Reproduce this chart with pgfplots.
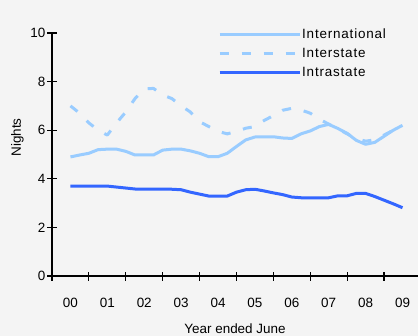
\documentclass[border=0pt]{standalone}
\usepackage{fontspec}
\setmainfont{Liberation Sans}
\newfontfamily\legfont[LetterSpace=6]{Liberation Sans}
\usepackage{pgfplots}
\usepackage{pgfplotstable}
\pgfplotsset{compat=1.18}
\definecolor{bg}{HTML}{F4F4F4}
\definecolor{lb}{HTML}{99CCFF}
\definecolor{db}{HTML}{3366FF}
\pgfplotstableread{
x     intl  inter intra
0.50  4.90  7.00  3.70
0.75  4.98  6.70  3.70
1.00  5.05  6.30  3.70
1.25  5.20  6.00  3.70
1.50  5.22  5.80  3.70
1.75  5.22  6.30  3.66
2.00  5.13  6.75  3.62
2.25  4.98  7.30  3.58
2.50  4.98  7.70  3.57
2.75  4.98  7.72  3.57
3.00  5.18  7.45  3.57
3.25  5.22  7.30  3.57
3.50  5.22  7.00  3.55
3.75  5.15  6.75  3.45
4.00  5.05  6.35  3.37
4.25  4.91  6.15  3.29
4.50  4.91  5.95  3.29
4.75  5.05  5.85  3.29
5.00  5.33  5.95  3.45
5.25  5.60  6.08  3.55
5.50  5.72  6.15  3.57
5.75  5.73  6.40  3.50
6.00  5.73  6.60  3.42
6.25  5.68  6.82  3.35
6.50  5.66  6.90  3.25
6.75  5.85  6.83  3.22
7.00  5.97  6.70  3.22
7.25  6.15  6.45  3.22
7.50  6.24  6.25  3.22
7.75  6.07  6.05  3.30
8.00  5.87  5.85  3.30
8.25  5.58  5.65  3.40
8.50  5.42  5.55  3.40
8.75  5.50  5.60  3.27
9.00  5.75  5.80  3.12
9.25  6.00  6.00  2.97
9.50  6.20  6.20  2.81
}\data
\begin{document}
\begin{tikzpicture}
\path[use as bounding box, fill=bg] (-52bp,-60bp) rectangle (366bp,276bp);
\begin{axis}[
  scale only axis, width=366bp, height=243bp,
  xmin=0, xmax=9.92, ymin=0, ymax=10,
  axis x line*=bottom, axis y line*=left,
  axis line style={black, line width=1.2bp},
  tick style={black, line width=1.2bp},
  tick align=center, major tick length=9bp,
  ytick={0,2,...,10},
  xtick={0,...,9}, xticklabels={},
  extra x ticks={0.5,1.5,...,9.5},
  extra x tick labels={00,01,02,03,04,05,06,07,08,09},
  extra x tick style={tick style={draw=none}},
  /pgf/number format/assume math mode=true,
  ticklabel style={font=\fontsize{13.5}{16}\selectfont},
  yticklabel style={anchor=east, inner sep=0pt, xshift=-2bp},
  xticklabel style={anchor=base, inner sep=0pt, yshift=-27bp},
  ylabel={Nights},
  xlabel={Year ended June},
  every axis y label/.style={at={(axis description cs:0,0.57)}, xshift=-34.5bp, rotate=90, anchor=center, font=\fontsize{13.5}{16}\selectfont},
  every axis x label/.style={at={(axis description cs:0.5,0)}, yshift=-57bp, anchor=base, font=\fontsize{13.5}{16}\selectfont},
  legend style={draw=none, fill=none, at={(0.4536,1.022)}, anchor=north west,
    inner sep=0pt, font=\legfont\fontsize{13.5}{16}\selectfont, row sep=6bp,
    nodes={inner sep=1bp}},
  legend image code/.code={\draw[#1] (0bp,0bp) -- (80bp,0bp);},
  legend cell align=left,
  line join=round,
]
\addplot[lb, line width=3bp] table[x=x, y=intl] {\data};
\addlegendentry{International}
\addplot[lb, line width=3bp, dash pattern=on 9bp off 13bp] table[x=x, y=inter] {\data};
\addlegendentry{Interstate}
\addplot[db, line width=3bp] table[x=x, y=intra] {\data};
\addlegendentry{Intrastate}
\end{axis}
\end{tikzpicture}
\end{document}
